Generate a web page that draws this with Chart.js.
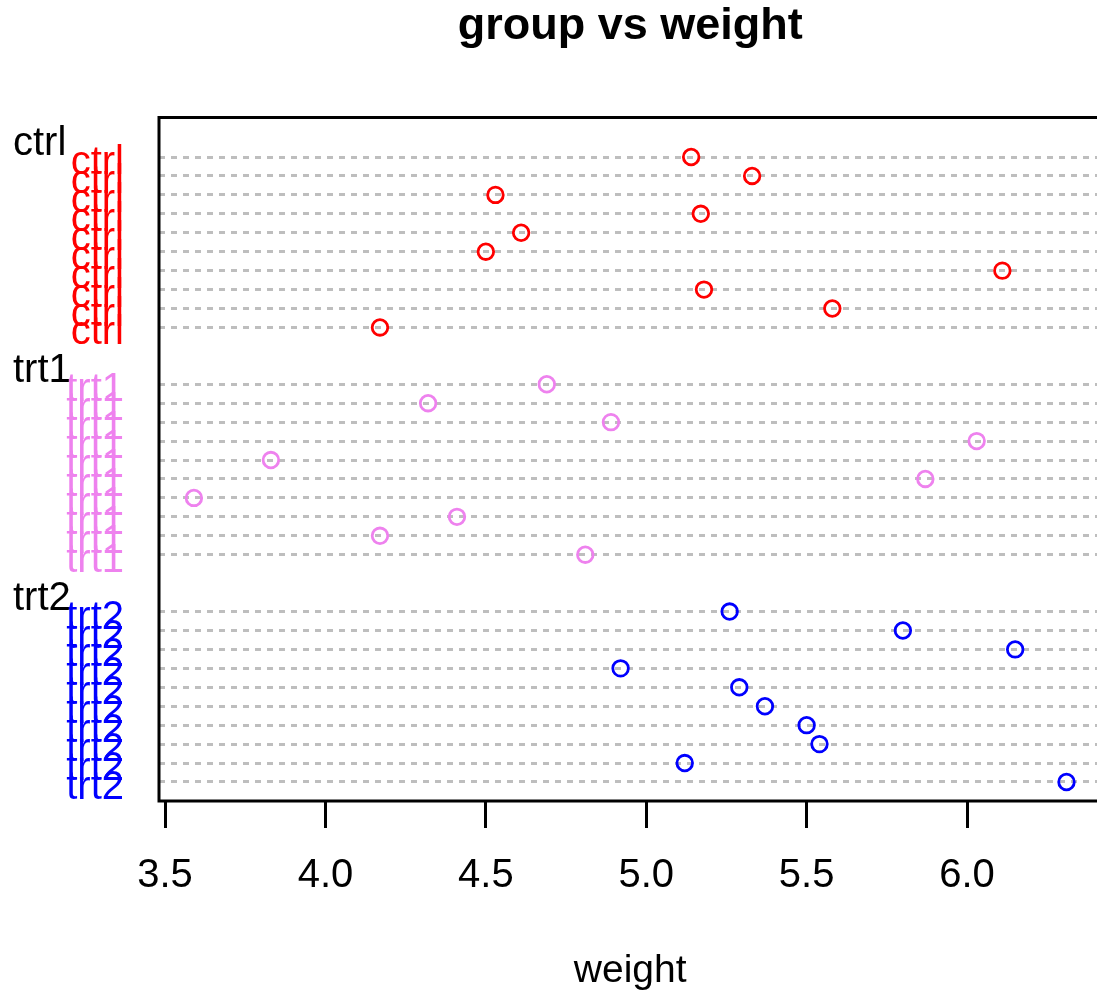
<!DOCTYPE html>
<html>
<head>
<meta charset="utf-8">
<title>group vs weight</title>
<script src="https://cdn.jsdelivr.net/npm/chart.js@4/dist/chart.umd.min.js"></script>
<style>
  html, body { margin: 0; padding: 0; background: #fff; overflow: hidden; }
  #wrap { width: 1112px; height: 996px; }
</style>
</head>
<body>
<div id="wrap"><canvas id="dot" width="1112" height="996"></canvas></div>
<script>
// plant weights per group, listed top row first
const groups = ['ctrl', 'trt1', 'trt2'];
const ctrlWeight = [5.14, 5.33, 4.53, 5.17, 4.61, 4.50, 6.11, 5.18, 5.58, 4.17];
const trt1Weight = [4.69, 4.32, 4.89, 6.03, 3.83, 5.87, 3.59, 4.41, 4.17, 4.81];
const trt2Weight = [5.26, 5.80, 6.15, 4.92, 5.29, 5.37, 5.50, 5.54, 5.12, 6.31];
const weightTicks = [3.5, 4.0, 4.5, 5.0, 5.5, 6.0];
const weightTickLabels = ['3.5', '4.0', '4.5', '5.0', '5.5', '6.0'];

const groupColors = ['#FF0000', '#EE82EE', '#0000FF'];
const FONT = "'Liberation Sans', Arial, sans-serif";
const ROWS_PER_GROUP = 12; // 10 rows + 2 spacer lines between groups

const series = [ctrlWeight, trt1Weight, trt2Weight];
const rowValues = [];
const rowNames = {};
series.forEach((vals, g) => {
  vals.forEach((v, i) => {
    const row = g * ROWS_PER_GROUP + i;
    rowValues.push(row);
    rowNames[row] = groups[g];
  });
});

const datasets = series.map((vals, g) => ({
  label: groups[g],
  data: vals.map((v, i) => ({ x: v, y: g * ROWS_PER_GROUP + i })),
  pointStyle: 'circle',
  pointRadius: 7.8,
  pointHoverRadius: 7.8,
  pointBorderWidth: 2.8,
  pointBackgroundColor: 'rgba(0,0,0,0)',
  pointBorderColor: groupColors[g]
}));

// box around the plot region
const frame = {
  id: 'frame',
  afterDatasetsDraw(chart) {
    const { ctx, chartArea: a } = chart;
    ctx.save();
    ctx.lineWidth = 3;
    ctx.strokeStyle = '#000';
    ctx.strokeRect(a.left, a.top, a.right - a.left, a.bottom - a.top);
    ctx.restore();
  }
};

// group headings on the spacer line above each group
const groupHeads = {
  id: 'groupHeads',
  afterDraw(chart) {
    const { ctx } = chart;
    const y = chart.scales.y;
    ctx.save();
    ctx.font = '40px ' + FONT;
    ctx.fillStyle = '#000';
    ctx.textAlign = 'left';
    ctx.textBaseline = 'alphabetic';
    groups.forEach((name, g) => {
      const py = y.getPixelForValue(g * ROWS_PER_GROUP - 1);
      ctx.fillText(name, 13, py + 17);
    });
    ctx.restore();
  }
};

new Chart(document.getElementById('dot'), {
  type: 'scatter',
  data: { datasets },
  options: {
    responsive: false,
    animation: false,
    events: [],
    layout: { padding: 0 },
    plugins: {
      legend: { display: false },
      tooltip: { enabled: false },
      title: {
        display: true,
        fullSize: false,
        text: 'group vs weight',
        color: '#000',
        font: { family: FONT, size: 45, weight: 'bold' },
        padding: { top: 0, bottom: 63.5 }
      }
    },
    scales: {
      x: {
        type: 'linear',
        min: 3.4812,
        max: 6.4188,
        afterFit(scale) { scale.height = 195; },
        afterBuildTicks(scale) { scale.ticks = weightTicks.map(v => ({ value: v })); },
        border: { display: false },
        grid: {
          display: true,
          drawOnChartArea: false,
          drawTicks: true,
          tickLength: 27,
          color: '#000',
          lineWidth: 3
        },
        ticks: {
          autoSkip: false,
          maxRotation: 0,
          padding: 24,
          color: '#000',
          font: { family: FONT, size: 40 },
          callback: (v, i) => weightTickLabels[i]
        },
        title: {
          display: true,
          text: 'weight',
          color: '#000',
          font: { family: FONT, size: 39 },
          padding: { top: 0, bottom: 1 }
        }
      },
      y: {
        type: 'linear',
        reverse: true,
        min: -2.086,
        max: 34.004,
        afterFit(scale) { scale.width = 159; },
        afterBuildTicks(scale) { scale.ticks = rowValues.map(v => ({ value: v })); },
        border: { display: false, dash: [6, 6] },
        grid: {
          color: '#BEBEBE',
          lineWidth: 3,
          drawTicks: false
        },
        ticks: {
          autoSkip: false,
          padding: 35,
          labelOffset: 6,
          font: { family: FONT, size: 40 },
          color: (c) => groupColors[Math.floor(c.tick.value / ROWS_PER_GROUP)],
          callback: (v) => rowNames[v]
        }
      }
    }
  },
  plugins: [frame, groupHeads]
});
</script>
</body>
</html>
